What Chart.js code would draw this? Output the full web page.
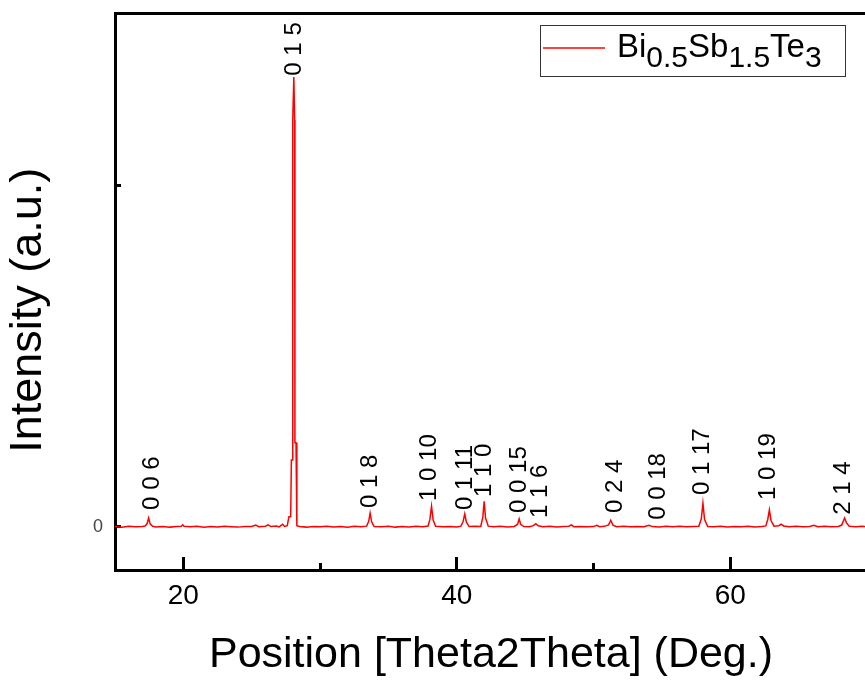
<!DOCTYPE html>
<html>
<head>
<meta charset="utf-8">
<script src="https://cdn.jsdelivr.net/npm/chart.js@4/dist/chart.umd.min.js"></script>
<style>
  html, body { margin: 0; padding: 0; background: #fff; overflow: hidden; }
  #wrap { width: 868px; height: 682px; }
</style>
</head>
<body>
<div id="wrap"><canvas id="xrd" width="868" height="682"></canvas></div>
<script>
// 2theta (deg) and counts
const twoTheta = [
  15.0, 15.5, 16.0, 16.5, 17.0, 17.2, 17.35, 17.46, 17.57, 17.75, 18.0, 18.5, 19.0, 19.5, 19.85, 19.95, 20.05,
  20.5, 21.0, 21.5, 22.0, 22.5, 23.0, 23.5, 24.0, 24.5, 25.0, 25.3, 25.5, 26.0, 26.2, 26.4, 26.8, 27.0, 27.26,
  27.4, 27.6, 27.72, 27.85, 27.9, 27.98, 28.0, 28.08, 28.14, 28.16, 28.24, 28.3, 28.5, 29.0, 29.5, 30.0, 30.5,
  31.0, 31.5, 32.0, 32.5, 33.0, 33.4, 33.55, 33.66, 33.77, 33.95, 34.5, 35.0, 35.5, 36.0, 36.5, 37.0, 37.5,
  37.9, 38.03, 38.15, 38.27, 38.45, 39.0, 39.5, 40.0, 40.3, 40.46, 40.58, 40.7, 40.9, 41.3, 41.75, 41.9, 42.0,
  42.1, 42.3, 42.7, 43.2, 43.7, 44.2, 44.45, 44.56, 44.67, 44.9, 45.3, 45.6, 45.78, 45.95, 46.3, 46.8, 47.3,
  47.8, 48.2, 48.38, 48.55, 49.0, 49.5, 50.0, 50.23, 50.45, 50.8, 51.1, 51.26, 51.42, 51.7, 52.2, 52.7, 53.2,
  53.7, 54.06, 54.3, 54.8, 55.3, 55.8, 56.3, 56.8, 57.3, 57.7, 57.88, 58.0, 58.12, 58.35, 58.8, 59.3, 59.8,
  60.3, 60.8, 61.3, 61.8, 62.3, 62.6, 62.74, 62.86, 62.98, 63.2, 63.55, 63.72, 63.9, 64.3, 64.8, 65.3, 65.8,
  66.12, 66.4, 66.9, 67.4, 67.9, 68.15, 68.36, 68.5, 68.7, 69.2, 69.6, 70.0
];
const counts = [
  8, -4, 10, 2, 6, 14, 50, 132, 45, 10, 0, 8, -2, 6, 12, 32, 10,
  2, 9, -3, 7, 0, 10, 4, -2, 8, 6, 28, 4, 12, 30, 6, 14, 2, 40,
  8, 20, 150, 150, 980, 980, 5950, 6580, 5950, 1230, 1230, 20, 6, -2, 8, 3, 10,
  0, 7, -3, 9, 2, 12, 80, 204, 75, 8, 4, 10, -2, 6, 1, 9, 3,
  14, 110, 303, 100, 10, 2, 8, -1, 12, 80, 191, 70, 6, 10, 8, 140, 375,
  130, 12, 4, 10, 0, 8, 40, 118, 38, 6, 4, 20, 49, 18, 2, 9, -1,
  6, 12, 30, 5, 8, 2, 6, 25, 3, 9, 30, 99, 28, 4, 10, 2, 8,
  5, 25, 6, 0, 9, 3, 10, 2, 8, 12, 120, 349, 110, 8, 3, 10, 1,
  8, 4, 9, 0, 8, 16, 110, 250, 95, 12, 18, 40, 15, 4, 9, 2, 8,
  25, 4, 10, 2, 8, 28, 132, 60, 10, 4, 9, 3
];

// reflection labels (hkl) and where they sit
const hklLabels = ['0 0 6', '0 1 5', '0 1 8', '1 0 10', '0 1 11', '1 1 0', '0 0 15', '1 1 6', '0 2 4', '0 0 18', '0 1 17', '1 0 19', '2 1 4'];
const hklTheta  = [17.76, 28.1, 33.66, 37.98, 40.66, 42.05, 44.6, 46.14, 51.62, 54.71, 57.96, 62.76, 68.27];
const hklCounts = [250, 6600, 276, 380, 249, 439, 205, 132, 204, 105, 467, 395, 178];

const majorTicks = [20, 40, 60];
const minorTicks = [30, 50];
const yTicks = [0, 5000];

const legendParts = [['Bi', false], ['0.5', true], ['Sb', false], ['1.5', true], ['Te', false], ['3', true]];

const FONT = '"Liberation Sans", Arial, sans-serif';
Chart.defaults.font.family = FONT;

function noPad(s) {
  s.paddingTop = 0;
  s.paddingBottom = 0;
  s.paddingLeft = 0;
  s.paddingRight = 0;
}

const hklPlugin = {
  id: 'hkl',
  afterDatasetsDraw(chart) {
    const ctx = chart.ctx;
    const xs = chart.scales.x;
    const ys = chart.scales.y;
    ctx.save();
    ctx.font = '24px ' + FONT;
    ctx.fillStyle = '#000';
    ctx.textAlign = 'left';
    ctx.textBaseline = 'middle';
    hklLabels.forEach((t, i) => {
      ctx.save();
      ctx.translate(xs.getPixelForValue(hklTheta[i]), ys.getPixelForValue(hklCounts[i]));
      ctx.rotate(-Math.PI / 2);
      ctx.fillText(t, 0, 0);
      ctx.restore();
    });
    ctx.restore();
  }
};

// legend with sub-scripts, canvas legend can't do that
const legendPlugin = {
  id: 'subLegend',
  afterDraw(chart) {
    const ctx = chart.ctx;
    const ds = chart.data.datasets[0];
    ctx.save();
    ctx.fillStyle = '#fff';
    ctx.fillRect(540, 25, 305, 52);
    ctx.strokeStyle = '#333';
    ctx.lineWidth = 1;
    ctx.strokeRect(540.5, 25.5, 305, 51);
    ctx.strokeStyle = ds.borderColor;
    ctx.lineWidth = 1.5;
    ctx.beginPath();
    ctx.moveTo(543, 48);
    ctx.lineTo(605, 48);
    ctx.stroke();
    ctx.fillStyle = '#000';
    ctx.textBaseline = 'alphabetic';
    let x = 617;
    legendParts.forEach(([t, sub]) => {
      ctx.font = (sub ? '30px ' : '33px ') + FONT;
      ctx.fillText(t, x, sub ? 67 : 57);
      x += ctx.measureText(t).width;
    });
    ctx.restore();
  }
};

new Chart(document.getElementById('xrd'), {
  type: 'line',
  data: {
    datasets: [{
      label: 'Bi0.5Sb1.5Te3',
      data: twoTheta.map((t, i) => ({ x: t, y: counts[i] })),
      borderColor: '#ff0000',
      borderWidth: 1.5,
      pointRadius: 0,
      tension: 0,
      fill: false,
      xAxisID: 'x',
      yAxisID: 'y'
    }]
  },
  options: {
    responsive: false,
    animation: false,
    devicePixelRatio: 1,
    layout: { padding: { top: 13, left: 0, right: 1, bottom: 0 } },
    plugins: { legend: { display: false }, tooltip: { enabled: false } },
    scales: {
      x: {
        type: 'linear', position: 'bottom', min: 15, max: 70, weight: 1,
        afterBuildTicks: s => { s.ticks = majorTicks.map(v => ({ value: v })); },
        afterFit: s => { s.height = 112; noPad(s); },
        ticks: { padding: 22, maxRotation: 0, color: '#000', font: { size: 28 } },
        grid: { drawOnChartArea: false, tickLength: -13, tickWidth: 3, tickColor: '#000' },
        border: { color: '#000', width: 3 },
        title: {
          display: true, text: 'Position [Theta2Theta] (Deg.)', color: '#000',
          font: { size: 43 }, padding: { top: 0, bottom: 1 }
        }
      },
      xMinor: {
        type: 'linear', position: 'bottom', min: 15, max: 70, weight: 0,
        afterBuildTicks: s => { s.ticks = minorTicks.map(v => ({ value: v })); },
        afterFit: s => { s.height = 0; noPad(s); },
        ticks: { callback: () => '', padding: 0 },
        grid: { drawOnChartArea: false, tickLength: -7, tickWidth: 3, tickColor: '#000' },
        border: { display: false }
      },
      xTop: {
        type: 'linear', position: 'top', min: 15, max: 70,
        afterFit: s => { s.height = 0; noPad(s); },
        ticks: { display: false },
        grid: { drawOnChartArea: false, drawTicks: false },
        border: { color: '#000', width: 3 }
      },
      y: {
        type: 'linear', position: 'left', min: -629, max: 7516,
        afterBuildTicks: s => { s.ticks = yTicks.map(v => ({ value: v })); },
        afterFit: s => { s.width = 115; noPad(s); },
        ticks: { padding: 18, color: '#444', font: { size: 18 }, callback: v => (v === 0 ? '0' : '') },
        grid: { drawOnChartArea: false, tickLength: -6, tickWidth: 3, tickColor: '#000' },
        border: { color: '#000', width: 3 },
        title: {
          // trailing spaces nudge the rotated title a bit lower, as in the original
          display: true, text: 'Intensity (a.u.)   ', color: '#000',
          font: { size: 45 }, padding: { top: 2 }
        }
      }
    }
  },
  plugins: [hklPlugin, legendPlugin]
});
</script>
</body>
</html>
